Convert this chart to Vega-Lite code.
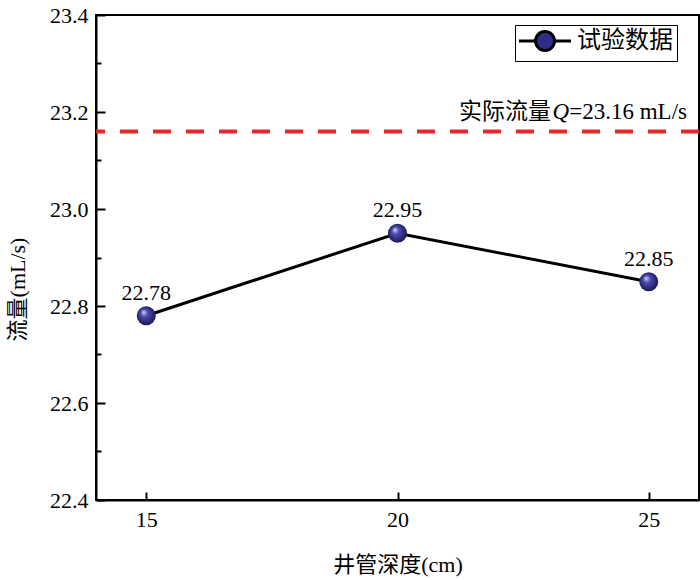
{
  "$schema": "https://vega.github.io/schema/vega-lite/v6.json",
  "width": 603,
  "height": 485,
  "autosize": {"type": "none"},
  "padding": {"left": 96, "top": 15, "right": 1, "bottom": 80},
  "background": "white",
  "config": {
    "view": {"stroke": "black", "strokeWidth": 2},
    "font": "Liberation Serif",
    "axis": {
      "domainColor": "black",
      "domainWidth": 2,
      "tickColor": "black",
      "tickWidth": 2,
      "grid": false,
      "labelFont": "Liberation Serif",
      "labelFontSize": 22,
      "labelColor": "black",
      "titleFont": "Liberation Serif, Noto Sans CJK SC",
      "titleFontSize": 22,
      "titleFontWeight": "normal",
      "titleColor": "black"
    }
  },
  "data": {
    "values": [
      {"depth": 15, "flow": 22.78},
      {"depth": 20, "flow": 22.95},
      {"depth": 25, "flow": 22.85}
    ]
  },
  "encoding": {
    "x": {
      "field": "depth",
      "type": "quantitative",
      "scale": {"domain": [14, 26], "nice": false},
      "axis": {
        "title": "井管深度(cm)",
        "values": [15, 20, 25],
        "tickSize": -8,
        "labelPadding": 17,
        "titlePadding": 24
      }
    },
    "y": {
      "field": "flow",
      "type": "quantitative",
      "scale": {"domain": [22.4, 23.4], "nice": false, "zero": false},
      "axis": {
        "title": "流量(mL/s)",
        "values": [22.4, 22.5, 22.6, 22.7, 22.8, 22.9, 23.0, 23.1, 23.2, 23.3, 23.4],
        "labelExpr": "round(datum.value * 10) % 2 == 0 ? format(datum.value, '.1f') : ''",
        "tickSize": {"condition": {"test": "round(datum.value * 10) % 2 == 0", "value": -9}, "value": -5},
        "labelPadding": 17,
        "titlePadding": 20,
        "titleY": 274
      }
    }
  },
  "layer": [
    {
      "data": {"values": [{"q": 23.16}]},
      "mark": {"type": "rule", "color": "#e8262a", "strokeWidth": 4, "strokeDash": [18, 15]},
      "encoding": {
        "x": null,
        "y": {"field": "q", "type": "quantitative"}
      }
    },
    {
      "data": {"values": [{"q": 23.16, "edge": 26}]},
      "encoding": {
        "x": {"field": "edge", "type": "quantitative"},
        "y": {"field": "q", "type": "quantitative"}
      },
      "layer": [
        {
          "mark": {"type": "text", "align": "right", "baseline": "middle", "dx": -12, "dy": -19, "fontSize": 23, "font": "Liberation Serif", "color": "black"},
          "encoding": {"text": {"value": "=23.16 mL/s"}}
        },
        {
          "mark": {"type": "text", "align": "right", "baseline": "middle", "dx": -130, "dy": -19, "fontSize": 23, "font": "Liberation Serif", "fontStyle": "italic", "color": "black"},
          "encoding": {"text": {"value": "Q"}}
        },
        {
          "mark": {"type": "text", "align": "right", "baseline": "middle", "dx": -148, "dy": -19, "fontSize": 23, "font": "Noto Sans CJK SC", "color": "black"},
          "encoding": {"text": {"value": "实际流量"}}
        }
      ]
    },
    {
      "mark": {"type": "line", "color": "black", "strokeWidth": 3}
    },
    {
      "mark": {
        "type": "point",
        "filled": true,
        "size": 361,
        "opacity": 1,
        "fill": {
          "gradient": "radial",
          "x1": 0.35, "y1": 0.3, "r1": 0,
          "x2": 0.5, "y2": 0.5, "r2": 0.55,
          "stops": [
            {"offset": 0, "color": "#d8d8ff"},
            {"offset": 0.35, "color": "#4a4ab0"},
            {"offset": 1, "color": "#15154a"}
          ]
        }
      }
    },
    {
      "mark": {"type": "text", "baseline": "middle", "dy": -23, "fontSize": 22, "font": "Liberation Serif", "color": "black"},
      "encoding": {
        "text": {"field": "flow", "type": "quantitative", "format": ".2f"}
      }
    },
    {
      "data": {"values": [{"flow": 23.3, "depth": 24}]},
      "mark": {"type": "point", "opacity": 0, "filled": false, "strokeWidth": 3},
      "encoding": {
        "shape": {
          "datum": "试验数据",
          "scale": {"range": ["M -2.74 0 L -1 0 M 1 0 L 2.74 0 M -1 0 A 1 1 0 1 0 1 0 A 1 1 0 1 0 -1 0 Z"]},
          "legend": {
            "title": null,
            "orient": "none",
            "legendX": 419,
            "legendY": 10,
            "strokeColor": "black",
            "padding": 4,
            "symbolSize": 361,
            "symbolOffset": 14,
            "symbolOpacity": 1,
            "symbolStrokeWidth": 3,
            "labelFont": "Noto Sans CJK SC",
            "labelFontSize": 24,
            "labelColor": "black",
            "labelOffset": 20,
            "rowPadding": 0
          }
        },
        "fill": {"datum": "试验数据", "scale": {"range": ["#2e2e8a"]}},
        "stroke": {"datum": "试验数据", "scale": {"range": ["black"]}}
      }
    }
  ]
}
